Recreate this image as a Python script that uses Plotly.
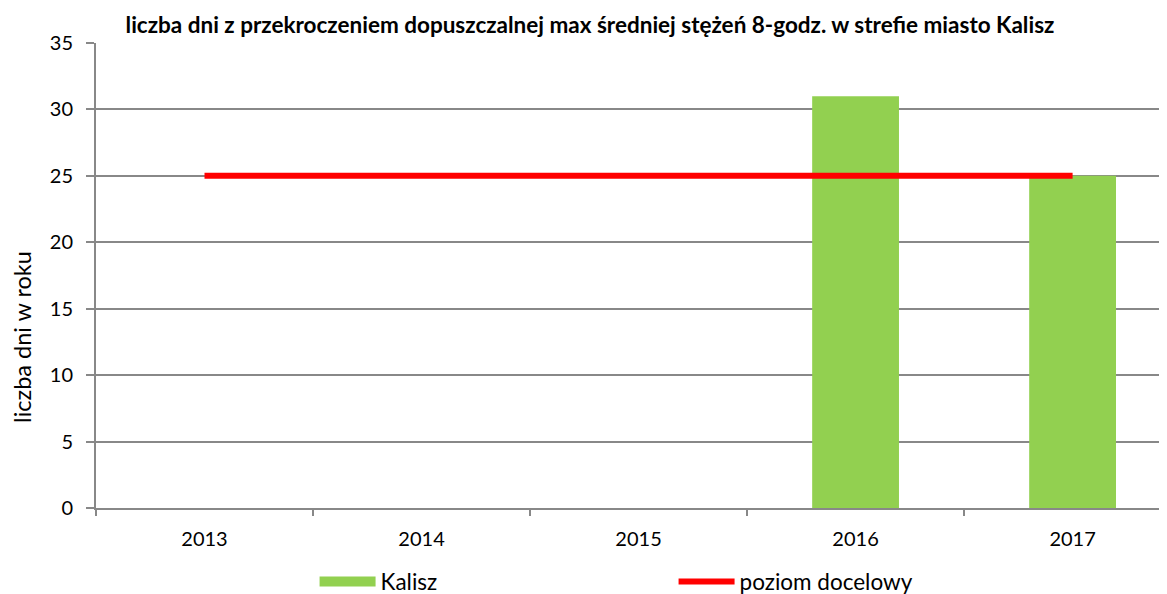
import plotly.graph_objects as go

years = ["2013", "2014", "2015", "2016", "2017"]
kalisz = [0, 0, 0, 31, 25]
poziom = [25, 25, 25, 25, 25]
title = "liczba dni z przekroczeniem dopuszczalnej max średniej stężeń 8-godz. w strefie miasto Kalisz"
y_title = "liczba dni w roku"

font = "Lato"
grid = "#888888"
green = "#92D050"

fig = go.Figure()
fig.add_trace(go.Bar(x=years, y=kalisz, name="Kalisz", marker_color=green,
                     width=0.4, marker_line_width=0, showlegend=False, legendgroup="k"))
# legend proxy for the bar series (wide box like the original)
fig.add_trace(go.Scatter(x=[years[0]], y=[None], name="Kalisz", mode="lines",
                         line=dict(color=green, width=14), legendgroup="k"))
fig.add_trace(go.Scatter(x=years, y=poziom, name="poziom docelowy", mode="lines",
                         line=dict(color="#FF0000", width=6)))

fig.update_layout(
    width=1167, height=594,
    margin=dict(l=88, r=8, t=35, b=94),
    paper_bgcolor="white", plot_bgcolor="white",
    font=dict(family=font, size=20, color="#000000"),
    title=dict(text="<b>" + title + "</b>", x=0.4987, xanchor="center", y=0.972, yanchor="middle",
               font=dict(family=font, size=22.5)),
    showlegend=True,
    legend=dict(orientation="h", xref="container", yref="container",
                x=0.2627, xanchor="left", y=0.034, yanchor="middle",
                entrywidth=288, entrywidthmode="pixels", itemwidth=56,
                font=dict(family=font, size=22.5), bgcolor="rgba(0,0,0,0)"),
    bargap=0.6,
    annotations=[dict(text=y_title, textangle=-90, xref="paper", yref="paper",
                      x=0, xshift=-74, xanchor="center", y=0.368, yanchor="middle",
                      showarrow=False, borderpad=0, font=dict(family=font, size=23.5))],
)
fig.update_xaxes(type="category", range=[-0.5, 4.435], showgrid=False, showline=True,
                 linecolor=grid, linewidth=2,
                 ticks="outside", tickson="boundaries", ticklen=6, tickcolor=grid, tickwidth=2,
                 ticklabelstandoff=12, tickfont=dict(family=font, size=20), automargin=False)
fig.update_yaxes(range=[0, 35], dtick=5, showgrid=True, gridcolor=grid, gridwidth=1.5,
                 showline=True, linecolor=grid, linewidth=2, ticks="outside", ticklen=8,
                 tickcolor=grid, tickwidth=1.5, zeroline=False, ticklabelstandoff=9,
                 tickfont=dict(family=font, size=20), automargin=False)

fig.write_html("out.html")
